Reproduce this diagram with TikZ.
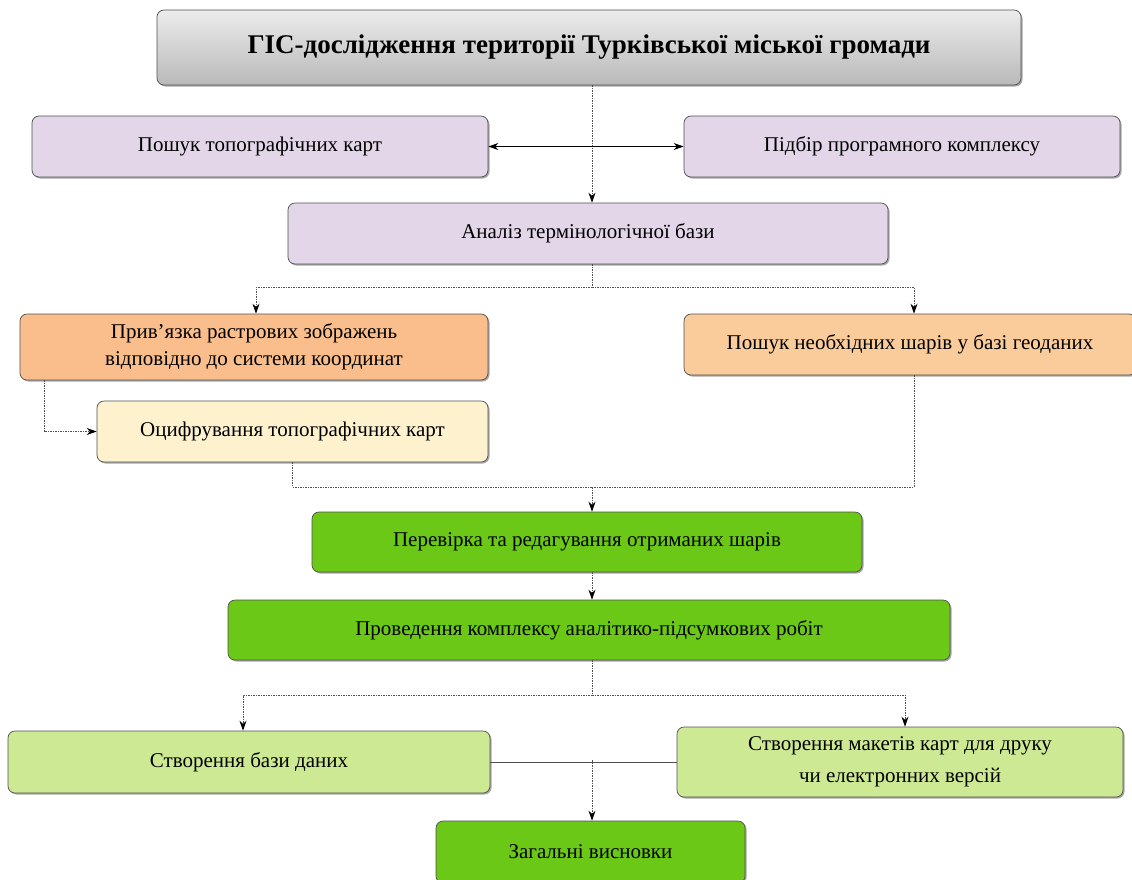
\documentclass[tikz,border=0pt]{standalone}
\usepackage{fontspec}
\setmainfont{Liberation Serif}
\usetikzlibrary{arrows.meta,shadows}
\definecolor{lav}{RGB}{226,214,232}
\definecolor{orgA}{RGB}{249,190,140}
\definecolor{orgB}{RGB}{251,204,155}
\definecolor{yel}{RGB}{254,242,206}
\definecolor{grnA}{RGB}{108,200,22}
\definecolor{grnB}{RGB}{206,233,148}
\definecolor{edge}{RGB}{80,80,80}
\tikzset{
  box/.style={draw=edge, line width=0.7pt, rounded corners=7pt, inner sep=0pt, align=center,
    font=\fontsize{21}{27}\selectfont,
    drop shadow={shadow xshift=1.5pt, shadow yshift=-1.5pt, opacity=0.35, fill=black}},
  conn/.style={draw=edge, line width=0.8pt, dash pattern=on 1.5pt off 1pt},
  tip/.style={-{Stealth[length=10pt,width=7pt,color=black]}},
}
\begin{document}
\begin{tikzpicture}[x=1pt,y=-1pt]
\useasboundingbox (0,0) rectangle (1132,879);
\node[box, top color=gray!15, bottom color=gray!55, minimum width=864pt, minimum height=75pt,
      font=\fontsize{27}{31}\selectfont\bfseries] (title) at (589,47.5)
  {ГІС-дослідження території Турківської міської громади};
\node[box, fill=lav, minimum width=456pt, minimum height=61pt] (ptk) at (260,146.5) {Пошук топографічних карт};
\node[box, fill=lav, minimum width=436pt, minimum height=61pt] (ppk) at (902,146.5) {Підбір програмного комплексу};
\node[box, fill=lav, minimum width=600pt, minimum height=61pt] (atb) at (588,233.5) {Аналіз термінологічної бази};
\node[box, fill=orgA, minimum width=468pt, minimum height=66pt] (prz) at (254,347)
  {Прив’язка растрових зображень\\відповідно до системи координат};
\node[box, fill=orgB, minimum width=452pt, minimum height=61pt] (pnsh) at (910,344.5) {Пошук необхідних шарів у базі геоданих};
\node[box, fill=yel, minimum width=391pt, minimum height=61pt] (otk) at (292.5,431.5) {Оцифрування топографічних карт};
\node[box, fill=grnA, minimum width=550pt, minimum height=60pt] (pr) at (587,542) {Перевірка та редагування отриманих шарів};
\node[box, fill=grnA, minimum width=722pt, minimum height=60pt] (pk) at (589,630) {Проведення комплексу аналітико-підсумкових робіт};
\node[box, fill=grnB, minimum width=482pt, minimum height=62pt] (sbd) at (249,762) {Створення бази даних};
\node[box, fill=grnB, minimum width=446pt, minimum height=70pt] (smk) at (900,762)
  {Створення макетів карт для друку\\[5pt]чи електронних версій};
\node[box, fill=grnA, minimum width=309pt, minimum height=62pt] (zv) at (590.5,852) {Загальні висновки};

\coordinate (cx) at (592,0);
\coordinate (j1) at (592,287);
\coordinate (xl) at (44,0);
\coordinate (j2) at (592,487);
\coordinate (j3) at (592,695);
\coordinate (j4) at (592,760);
\coordinate (xa) at (256,0);
\coordinate (xb) at (914,0);
\coordinate (xc) at (243,0);
\coordinate (xd) at (905,0);

\draw[conn,tip] (title.south -| cx) -- (atb.north -| cx);
\draw[line width=0.9pt,{Stealth[length=10pt,width=7pt]}-{Stealth[length=10pt,width=7pt]}] (ptk.east) -- (ppk.west);
\draw[conn] (atb.south -| cx) -- (j1);
\draw[conn,tip] (j1) -| (prz.north -| xa);
\draw[conn,tip] (j1) -| (pnsh.north -| xb);
\draw[conn,tip] (prz.south -| xl) |- (otk.west);
\draw[conn] (otk.south) |- (j2);
\draw[conn] (pnsh.south -| xb) |- (j2);
\draw[conn,tip] (j2) -- (pr.north -| cx);
\draw[conn,tip] (pr.south -| cx) -- (pk.north -| cx);
\draw[conn] (pk.south -| cx) -- (j3);
\draw[conn,tip] (j3) -| (sbd.north -| xc);
\draw[conn,tip] (j3) -| (smk.north -| xd);
\draw[line width=0.9pt, draw=edge] (sbd.east) -- (smk.west);
\draw[conn,tip] (j4) -- (zv.north -| cx);
\end{tikzpicture}
\end{document}
